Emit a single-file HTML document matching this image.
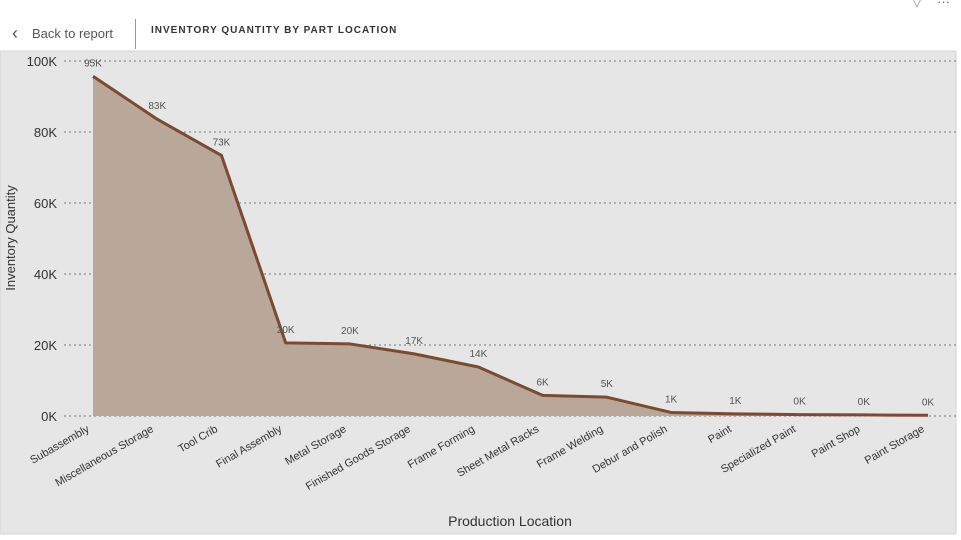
<!DOCTYPE html>
<html><head><meta charset="utf-8"><style>
body{margin:0;width:961px;height:540px;overflow:hidden;background:#fff;font-family:"Liberation Sans",sans-serif;}
#hdr{position:absolute;left:0;top:0;width:961px;height:51px;background:#fff;}
</style></head><body>
<div id="hdr">
<div style="position:absolute;left:12px;top:22px;font-size:13px;color:#555;"><span style="font-size:18px;position:relative;top:1px;margin-right:14px;">&#x2039;</span>Back to report</div>
<div style="position:absolute;left:135px;top:19px;width:1px;height:30px;background:#999;"></div>
<div style="position:absolute;left:151px;top:25px;font-size:10px;font-weight:bold;letter-spacing:1px;color:#333;">INVENTORY QUANTITY BY PART LOCATION</div>
<div style="position:absolute;left:912px;top:-6px;font-size:13px;color:#888;">&#x25BD;</div>
<div style="position:absolute;left:937px;top:-6px;font-size:13px;color:#666;">&middot;&middot;&middot;</div>
</div>
<svg id="chart" width="961" height="540" style="position:absolute;left:0;top:0">
<rect x="0" y="51" width="956" height="483" fill="#e6e6e6" stroke="#d4d4d4"/>
<g id="g"></g>
</svg>
<script>
const categories=["Subassembly","Miscellaneous Storage","Tool Crib","Final Assembly","Metal Storage","Finished Goods Storage","Frame Forming","Sheet Metal Racks","Frame Welding","Debur and Polish","Paint","Specialized Paint","Paint Shop","Paint Storage"];
const values=[95700,83600,73400,20600,20300,17500,13800,5800,5300,1000,600,400,300,200];
const labels=["95K","83K","73K","20K","20K","17K","14K","6K","5K","1K","1K","0K","0K","0K"];
const yTicks=[0,20000,40000,60000,80000,100000];
const yTickLabels=["0K","20K","40K","60K","80K","100K"];
const NS="http://www.w3.org/2000/svg";
const g=document.getElementById('g');
const x0=93,x1=928,yb=416,yt=61;
function xs(i){return x0+(x1-x0)*i/(categories.length-1);}
function ys(v){return yb-(yb-yt)*v/100000;}
function mk(t,a,p){const e=document.createElementNS(NS,t);for(const k in a)e.setAttribute(k,a[k]);(p||g).appendChild(e);return e;}
yTicks.forEach((v,i)=>{
 const l=mk('line',{x1:64,x2:956,y1:ys(v),y2:ys(v),stroke:'#777','stroke-dasharray':'2,3','stroke-width':1});
 
 
 const t=mk('text',{x:57,y:ys(v)+5,'text-anchor':'end','font-size':13,fill:'#333'});
 t.textContent=yTickLabels[i];
 
 
});
let d='M'+xs(0)+','+yb;
values.forEach((v,i)=>d+=' L'+xs(i)+','+ys(v));
d+=' L'+xs(values.length-1)+','+yb+' Z';
const area=mk('path',{d:d,fill:'#b9a79a'});


const line=mk('polyline',{points:values.map((v,i)=>xs(i)+','+ys(v)).join(' '),fill:'none',stroke:'#7b4a30','stroke-width':3,'stroke-linejoin':'round'});


values.forEach((v,i)=>{
 const t=mk('text',{x:xs(i),y:ys(v)-10,'text-anchor':'middle','font-size':10,fill:'#555'});
 t.textContent=labels[i];
 
 
 const c=mk('text',{x:0,y:0,'text-anchor':'end','font-size':11,fill:'#333',transform:'translate('+(xs(i)-3)+',431) rotate(-30)'});
 c.textContent=categories[i];
 
 
});
const xt=mk('text',{x:510,y:526,'text-anchor':'middle','font-size':14,fill:'#333'});
xt.textContent='Production Location';


const yt2=mk('text',{x:0,y:0,'text-anchor':'middle','font-size':13,fill:'#333',transform:'translate(15,238) rotate(-90)'});
yt2.textContent='Inventory Quantity';


</script>
</body></html>
